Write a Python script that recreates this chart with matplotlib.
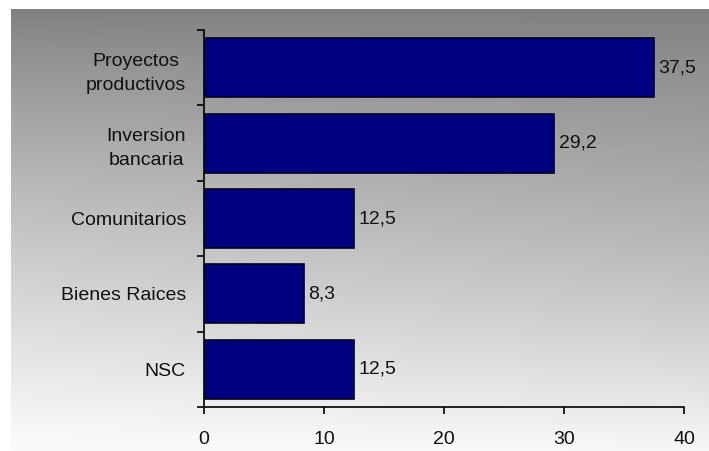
import numpy as np
import matplotlib.pyplot as plt

plt.rcParams['font.family'] = ['Liberation Sans', 'DejaVu Sans']

categories = ["Proyectos\nproductivos", "Inversion\nbancaria", "Comunitarios",
              "Bienes Raices", "NSC"]
values = [37.5, 29.2, 12.5, 8.3, 12.5]
value_labels = ["37,5", "29,2", "12,5", "8,3", "12,5"]
x_ticks = [0, 10, 20, 30, 40]

fig = plt.figure(figsize=(7.09, 4.51), dpi=100)

# fondo degradado gris -> blanco
bg = fig.add_axes([11 / 709, 0, 1 - 11 / 709, 1 - 9 / 451])
ty = np.linspace(0, 1, 200)[:, None]
tx = np.linspace(0, 1, 200)[None, :]
shade = 128 + 124 * ty ** 0.85 - 16 * tx * np.sin(np.pi * ty * 0.9)
shade = np.clip(shade, 0, 250) / 255.0
img = np.dstack([shade, shade, shade])
bg.imshow(img, aspect="auto", extent=[0, 1, 1, 0], interpolation="bilinear")
bg.axis("off")

ax = fig.add_axes([204 / 709, 1 - 407 / 451, 480 / 709, 377 / 451])
ax.patch.set_alpha(0)

pos = np.arange(len(categories))
ax.barh(pos, values, height=0.78, color="#000080", edgecolor="#000020", linewidth=1.2)

for p, v, lab in zip(pos, values, value_labels):
    ax.text(v + 0.35, p, lab, va="center", ha="left", fontsize=14, color="#111111")

ax.set_xlim(0, 40)
ax.set_ylim(len(categories) - 0.5, -0.5)

ax.set_xticks(x_ticks)
ax.set_xticklabels([str(t) for t in x_ticks], fontsize=14, color="#111111")
ax.tick_params(axis="x", direction="out", length=5, width=1.2, pad=12, color="black")

ax.set_yticks(pos)
ax.set_yticklabels(categories, fontsize=14, color="#111111", linespacing=1.55,
                   multialignment="center")
ax.tick_params(axis="y", which="major", length=0, pad=13)
ax.set_yticks(np.arange(-0.5, len(categories), 1.0), minor=True)
ax.tick_params(axis="y", which="minor", direction="out", length=5, width=1.2, color="black")

for side in ["top", "right"]:
    ax.spines[side].set_visible(False)
ax.spines["left"].set_linewidth(1.2)
ax.spines["bottom"].set_linewidth(1.2)

fig.savefig("out.png", dpi=100)
